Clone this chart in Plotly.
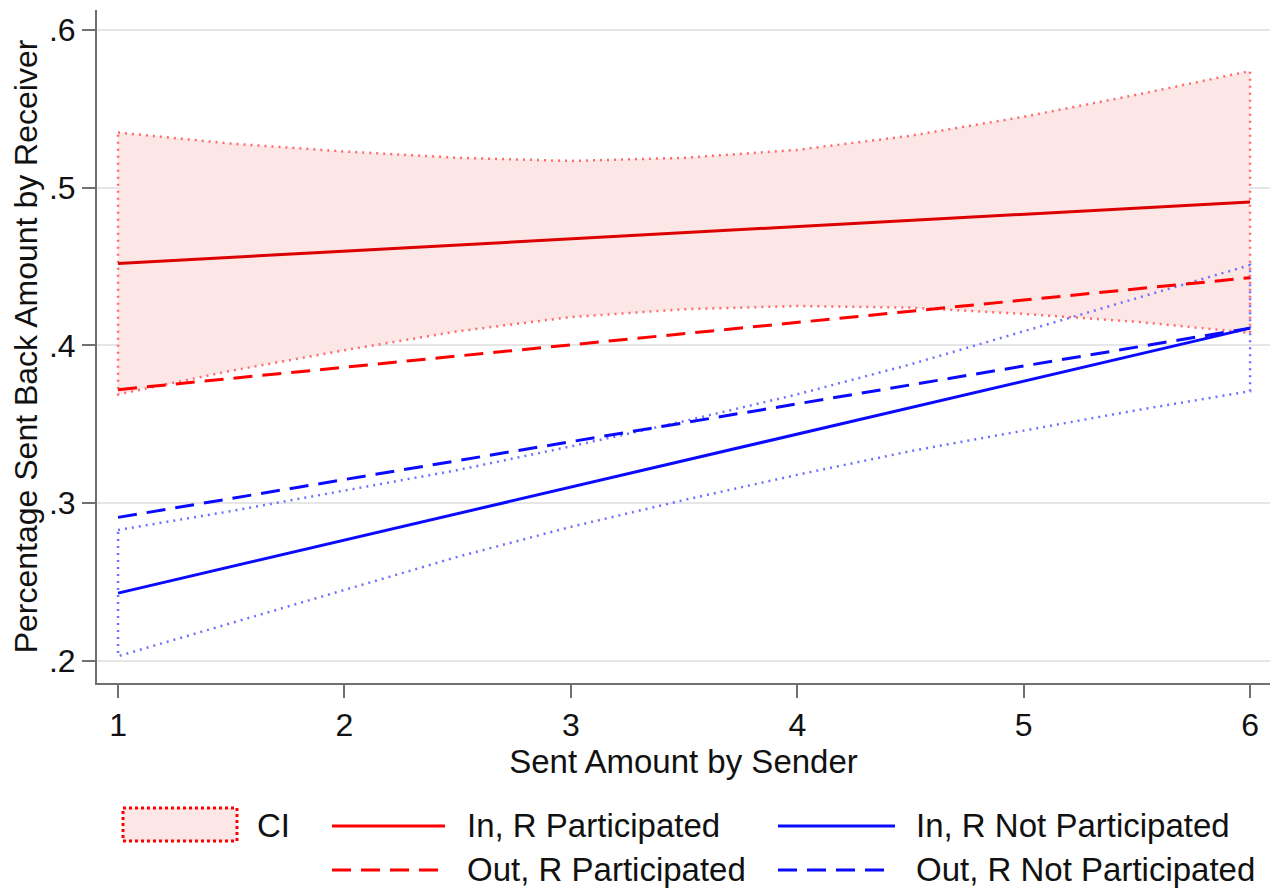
import plotly.graph_objects as go

# ---- data ----
x_ci = [1, 1.5, 2, 2.5, 3, 3.5, 4, 4.5, 5, 5.5, 6]
red_ci_upper = [0.535, 0.528, 0.523, 0.519, 0.517, 0.519, 0.524, 0.533, 0.545, 0.559, 0.574]
red_ci_lower = [0.369, 0.384, 0.397, 0.409, 0.418, 0.423, 0.425, 0.424, 0.420, 0.415, 0.408]
blue_ci_upper = [0.283, 0.295, 0.308, 0.321, 0.336, 0.352, 0.369, 0.388, 0.409, 0.430, 0.451]
blue_ci_lower = [0.203, 0.224, 0.245, 0.266, 0.285, 0.302, 0.318, 0.333, 0.346, 0.359, 0.371]

x_line = [1, 6]
in_r_part = [0.452, 0.491]
out_r_part = [0.372, 0.443]
in_r_notpart = [0.243, 0.411]
out_r_notpart = [0.291, 0.411]

x_ticks = [1, 2, 3, 4, 5, 6]
y_ticks = [0.2, 0.3, 0.4, 0.5, 0.6]
y_ticktext = [".2", ".3", ".4", ".5", ".6"]

legend_labels = ["CI", "In, R Participated", "In, R Not Participated",
                 "Out, R Participated", "Out, R Not Participated"]

# ---- styles ----
RED = "#ff0000"
RED_DARK = "#dc0000"
RED_DOT = "#ff6a6a"
PINK = "#fde6e6"
BLUE = "#0a0aff"
BLUE_DOT = "#7070ff"
FONT = "Liberation Sans, Arial, sans-serif"
DASH = "19px,10px"
DOT = "2px,5px"
FS = 33

fig = go.Figure()

# red CI band (closed polygon, filled, dotted outline)
fig.add_trace(go.Scatter(
    x=x_ci + x_ci[::-1] + [x_ci[0]],
    y=red_ci_upper + red_ci_lower[::-1] + [red_ci_upper[0]],
    mode="lines", fill="toself", fillcolor=PINK,
    line=dict(color=RED_DOT, width=2.5, dash=DOT),
    name="CI", showlegend=False, hoverinfo="skip"))

# blue CI (closed polygon, outline only)
fig.add_trace(go.Scatter(
    x=x_ci + x_ci[::-1] + [x_ci[0]],
    y=blue_ci_upper + blue_ci_lower[::-1] + [blue_ci_upper[0]],
    mode="lines",
    line=dict(color=BLUE_DOT, width=2.5, dash=DOT),
    showlegend=False, hoverinfo="skip"))

fig.add_trace(go.Scatter(x=x_line, y=in_r_part, mode="lines",
                         line=dict(color=RED_DARK, width=3), name=legend_labels[1], showlegend=False))
fig.add_trace(go.Scatter(x=x_line, y=out_r_part, mode="lines",
                         line=dict(color=RED, width=3, dash=DASH), name=legend_labels[3], showlegend=False))
fig.add_trace(go.Scatter(x=x_line, y=in_r_notpart, mode="lines",
                         line=dict(color=BLUE, width=3), name=legend_labels[2], showlegend=False))
fig.add_trace(go.Scatter(x=x_line, y=out_r_notpart, mode="lines",
                         line=dict(color=BLUE, width=3, dash=DASH), name=legend_labels[4], showlegend=False))

# ---- layout in page pixels (page body has an 8px margin) ----
OFF = 8
W, H = 1281, 896
L, R, T, B = 97 - OFF, 1270 - OFF, 10 - OFF, 683 - OFF

def px(xp):
    return (xp - OFF - L) / (R - L)
def py(yp):
    return (B - (yp - OFF)) / (B - T)

shapes = []
annotations = []
# CI legend box
shapes.append(dict(type="rect", xref="paper", yref="paper",
                   x0=px(123), x1=px(237), y0=py(841), y1=py(808),
                   fillcolor=PINK, line=dict(color=RED, width=3, dash="dot")))
annotations.append(dict(xref="paper", yref="paper", x=px(255), y=py(825),
                        text=legend_labels[0], showarrow=False, xanchor="left", yanchor="middle",
                        font=dict(size=FS, color="#111", family=FONT)))
entries = [
    (332, 445, 826, RED, "solid", legend_labels[1], 465),
    (332, 442, 870, RED, DASH, legend_labels[3], 465),
    (778, 895, 826, BLUE, "solid", legend_labels[2], 914),
    (778, 892, 870, BLUE, DASH, legend_labels[4], 914),
]
for x0, x1, yy, col, dsh, lab, tx in entries:
    shapes.append(dict(type="line", xref="paper", yref="paper",
                       x0=px(x0), x1=px(x1), y0=py(yy), y1=py(yy),
                       line=dict(color=col, width=3, dash=dsh)))
    annotations.append(dict(xref="paper", yref="paper", x=px(tx), y=py(yy),
                            text=lab, showarrow=False, xanchor="left", yanchor="middle",
                            font=dict(size=FS, color="#111", family=FONT)))

fig.update_layout(
    width=W, height=H,
    margin=dict(l=L, r=W - R, t=T, b=H - B, autoexpand=False),
    paper_bgcolor="white", plot_bgcolor="white",
    font=dict(family=FONT, size=FS, color="#111"),
    showlegend=False,
    shapes=shapes, annotations=annotations,
    xaxis=dict(range=[0.907, 6.088], tickvals=x_ticks, showgrid=False, zeroline=False,
               showline=True, linecolor="#707070", linewidth=2,
               ticks="outside", ticklen=13, tickwidth=2, tickcolor="#707070",
               tickfont=dict(size=32, family=FONT, color="#111"), automargin=False,
               title=dict(text="Sent Amount by Sender", font=dict(size=FS, family=FONT, color="#111"),
                          standoff=0)),
    yaxis=dict(range=[0.186, 0.6127], tickvals=y_ticks, ticktext=y_ticktext,
               showgrid=True, gridcolor="#e6e6e6", gridwidth=2, zeroline=False,
               showline=True, linecolor="#707070", linewidth=2,
               ticks="outside", ticklen=13, tickwidth=2, tickcolor="#707070",
               tickfont=dict(size=32, family=FONT, color="#111"), automargin=False,
               title=dict(text="Percentage Sent Back Amount by Receiver",
                          font=dict(size=FS - 1, family=FONT, color="#111"), standoff=2)),
)

fig.write_html("out.html")
